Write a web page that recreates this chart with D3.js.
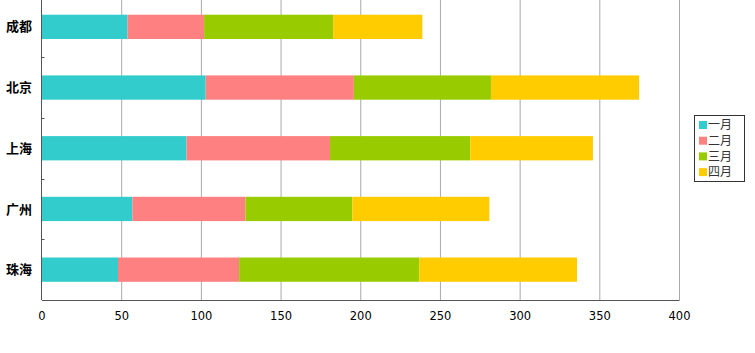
<!DOCTYPE html>
<html>
<head>
<meta charset="utf-8">
<script src="https://cdn.jsdelivr.net/npm/d3@7"></script>
<style>
  body { margin: 0; background: #fff; }
  .grid line { stroke: #aaa; stroke-width: 1; }
  .grid path { display: none; }
  .axis path, .axis line { stroke: #555; }
  .axis text { font-family: "DejaVu Sans", sans-serif; font-size: 11.5px; fill: #000; }
  .cat text { font-family: "Noto Sans CJK SC", sans-serif; font-size: 13px; font-weight: bold; fill: #000; }
  .legend text { font-family: "Noto Sans CJK SC", sans-serif; font-size: 12px; fill: #333; }
</style>
</head>
<body>
<svg width="755" height="353"></svg>
<script>
  // cities top to bottom
  const cities = ["成都", "北京", "上海", "广州", "珠海"];
  const months = ["一月", "二月", "三月", "四月"];
  const jan = [54, 103, 91, 57, 48];
  const feb = [48, 93, 90, 71, 76];
  const mar = [81, 86, 88, 67, 113];
  const apr = [56, 93, 77, 86, 99];
  const xTicks = [0, 50, 100, 150, 200, 250, 300, 350, 400];
  const colors = ["#33cccc", "#ff8080", "#99cc00", "#ffcc00"];

  const data = cities.map((c, i) => ({
    city: c, "一月": jan[i], "二月": feb[i], "三月": mar[i], "四月": apr[i]
  }));

  var svg = d3.select('svg');
  var plot = { left: 41.5, right: 679, top: -3.5, bottom: 300 };

  var xScale = d3.scaleLinear().domain([0, 400]).range([plot.left, plot.right]);
  var yScale = d3.scaleBand().domain(cities).range([plot.top, plot.bottom]).paddingInner(0.6).paddingOuter(0.3);
  var yTicks = d3.scaleBand().domain(cities).range([plot.top, plot.bottom]);
  var colorScale = d3.scaleOrdinal().domain(months).range(colors);

  var stacked = d3.stack().keys(months)(data);

  // vertical grid lines
  svg.append('g')
      .attr('class', 'grid')
      .attr('transform', `translate(0,${plot.bottom})`)
      .call(d3.axisBottom(xScale).tickValues(xTicks.slice(1)).tickSize(-plot.bottom).tickFormat(''));

  // bars
  svg.append('g').selectAll('g').data(stacked).enter().append('g')
      .attr('fill', d => colorScale(d.key))
    .selectAll('rect').data(d => d).enter().append('rect')
      .attr('x', d => xScale(d[0]))
      .attr('width', d => xScale(d[1]) - xScale(d[0]))
      .attr('y', d => yScale(d.data.city))
      .attr('height', yScale.bandwidth());

  // x axis
  svg.append('g')
      .attr('class', 'axis')
      .attr('transform', `translate(0,${plot.bottom})`)
      .call(d3.axisBottom(xScale).tickValues(xTicks).tickSize(0).tickSizeOuter(0).tickPadding(12));

  // y axis with ticks between categories
  var yAxisG = svg.append('g')
      .attr('class', 'axis')
      .attr('transform', `translate(${plot.left},0)`);
  yAxisG.append('line')
      .attr('x1', 0).attr('x2', 0).attr('y1', 0).attr('y2', plot.bottom)
      .attr('stroke', '#555');
  yAxisG.selectAll('.tk').data(cities.slice(1)).enter().append('line')
      .attr('class', 'tk')
      .attr('x1', 0).attr('x2', 3)
      .attr('y1', d => Math.round(yTicks(d)) + 0.5)
      .attr('y2', d => Math.round(yTicks(d)) + 0.5);

  // category labels
  svg.append('g').attr('class', 'cat').selectAll('text').data(cities).enter().append('text')
      .attr('x', 32)
      .attr('y', d => yScale(d) + yScale.bandwidth() / 2)
      .attr('dy', '0.35em')
      .attr('text-anchor', 'end')
      .text(d => d);

  // legend
  var legend = svg.append('g').attr('class', 'legend');
  legend.append('rect')
      .attr('x', 694.5).attr('y', 115.5).attr('width', 50).attr('height', 66)
      .attr('fill', '#fff').attr('stroke', '#333');
  var items = legend.selectAll('g').data(months).enter().append('g')
      .attr('transform', (d, i) => `translate(699,${125 + i * 15.7})`);
  items.append('rect')
      .attr('x', 0).attr('y', -4).attr('width', 8).attr('height', 8)
      .attr('fill', d => colorScale(d));
  items.append('text')
      .attr('x', 9).attr('dy', '0.35em')
      .text(d => d);
</script>
</body>
</html>
